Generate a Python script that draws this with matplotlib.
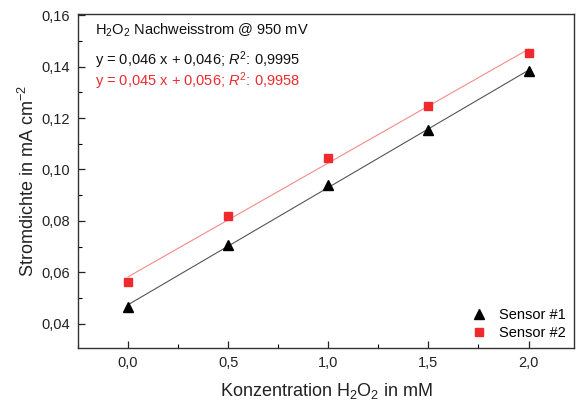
import matplotlib

matplotlib.use("Agg")
import matplotlib.pyplot as plt
import numpy as np
from matplotlib.ticker import FuncFormatter, MultipleLocator

plt.rcParams["font.family"] = ["Liberation Sans", "DejaVu Sans"]
plt.rcParams["mathtext.fontset"] = "custom"
plt.rcParams["mathtext.rm"] = "Liberation Sans"
plt.rcParams["mathtext.it"] = "Liberation Sans:italic"

# Data
conc = [0.0, 0.5, 1.0, 1.5, 2.0]
sensor1 = [0.0466, 0.0707, 0.0938, 0.1155, 0.1383]
sensor2 = [0.0561, 0.0818, 0.1046, 0.1247, 0.1454]
x_ticks = [0.0, 0.5, 1.0, 1.5, 2.0]
y_ticks = [0.04, 0.06, 0.08, 0.10, 0.12, 0.14, 0.16]

red = "#ee2a2e"

fig = plt.figure(figsize=(5.79, 4.03), dpi=100)
ax = fig.add_axes([78 / 579, 1 - 348 / 403, (574 - 78) / 579, (348 - 14) / 403])

# Linear fits
x_fit = np.array([conc[0], conc[-1]])
p1 = np.polyfit(conc, sensor1, 1)
p2 = np.polyfit(conc, sensor2, 1)
ax.plot(x_fit, np.polyval(p1, x_fit), color="#555555", lw=0.8, zorder=1)
ax.plot(x_fit, np.polyval(p2, x_fit), color="#f58a8a", lw=0.8, zorder=1)

ax.plot(conc, sensor1, "^", color="black", ms=6.5, ls="none", label="Sensor #1", zorder=3)
ax.plot(conc, sensor2, "s", color=red, ms=5.5, ls="none", label="Sensor #2", zorder=3)

ax.set_xlim(-0.25, 2.227)
ax.set_ylim(0.0305, 0.1605)
ax.set_xticks(x_ticks)
ax.set_yticks(y_ticks)
ax.xaxis.set_minor_locator(MultipleLocator(0.25))
ax.yaxis.set_minor_locator(MultipleLocator(0.01))
ax.xaxis.set_major_formatter(FuncFormatter(lambda v, p: f"{v:.1f}".replace(".", ",")))
ax.yaxis.set_major_formatter(FuncFormatter(lambda v, p: f"{v:.2f}".replace(".", ",")))
ax.tick_params(which="major", direction="in", length=5, width=0.9, labelsize=10.5,
               colors="#222222", pad=6)
ax.tick_params(which="minor", direction="in", length=3, width=0.8)
for s in ax.spines.values():
    s.set_linewidth(1.0)
    s.set_color("#333333")

ax.set_xlabel("Konzentration H$_2$O$_2$ in mM", fontsize=13, color="#222222", labelpad=8)
ax.set_ylabel("Stromdichte in mA cm$^{-2}$", fontsize=13, color="#222222", labelpad=2)

# Annotations (equations of the fits as printed in the original)
ax.text(0.035, 0.952, "H$_2$O$_2$ Nachweisstrom @ 950 mV", transform=ax.transAxes,
        fontsize=10.5, va="center", color="#111111")
ax.text(0.035, 0.863, "y = 0,046 x + 0,046; $R^2$: 0,9995", transform=ax.transAxes,
        fontsize=10.5, va="center", color="#111111")
ax.text(0.035, 0.798, "y = 0,045 x + 0,056; $R^2$: 0,9958", transform=ax.transAxes,
        fontsize=10.5, va="center", color=red)

ax.legend(loc="lower right", frameon=False, fontsize=10.5, handletextpad=0.8,
          handlelength=1.2, borderaxespad=0.15, labelspacing=0.25)

fig.savefig("out.png", dpi=100)
